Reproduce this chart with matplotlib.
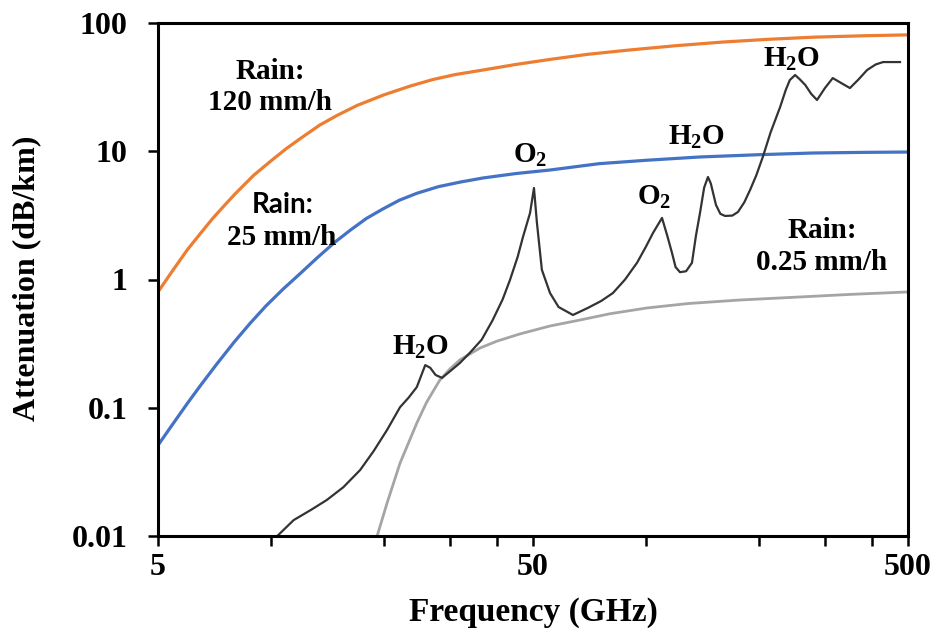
import matplotlib
matplotlib.use("Agg")
import matplotlib.pyplot as plt
from matplotlib.ticker import FixedLocator, NullLocator, NullFormatter

# ---------------- data ----------------
rain120_freq = [5, 5.5, 6, 6.5, 7, 7.5, 8, 8.5, 9, 10, 11, 12, 13.5, 15, 17, 20, 23.5, 27, 31, 36.8,
                45, 55.5, 70, 90, 120, 160, 210, 279, 380, 500]
rain120_att = [0.80, 1.2, 1.72, 2.3, 3.0, 3.75, 4.6, 5.5, 6.5, 8.4, 10.5, 12.6, 16.0, 19.0, 22.8, 27.5, 32.2, 36.2,
               39.6, 43, 47.5, 52, 57, 61.5, 66.5, 71, 74.5, 77.5, 79.5, 80.8]

rain25_freq = [5, 5.5, 6, 6.5, 7.18, 8, 8.8, 9.7, 10.77, 12, 13.3, 14.8, 16.3, 18, 19.9, 22, 24.5, 28, 32,
               36.8, 45, 55.5, 75, 100, 139, 200, 279, 380, 500]
rain25_att = [0.051, 0.076, 0.109, 0.150, 0.220, 0.328, 0.455, 0.622, 0.84, 1.12, 1.48, 1.95, 2.43, 3.0, 3.55,
              4.15, 4.7, 5.3, 5.75, 6.19, 6.7, 7.14, 8.0, 8.5, 9.02, 9.4, 9.69, 9.8, 9.86]

rain025_freq = [19.2, 20.4, 22.1, 24.5, 26, 28.2, 30, 31.9, 36.1, 40, 46.1, 55.5, 66.7, 80, 100.7, 130,
                178, 258, 350, 500]
rain025_att = [0.010, 0.018, 0.037, 0.076, 0.11, 0.164, 0.20, 0.236, 0.292, 0.33, 0.376, 0.434, 0.483, 0.54,
               0.600, 0.65, 0.692, 0.731, 0.765, 0.80]

gas_freq = [10.4, 11.5, 12.8, 14.1, 15.6, 17.3, 18.8, 20.4, 22.1, 23.3, 24.5, 25.2, 25.8, 26.6, 27.5,
            28.6, 30.2, 31.9, 34, 36.5, 39, 41.5, 43.4, 45.5, 47.0, 49.1, 50.3, 51.2, 52.8, 55.5, 58.5,
            63.9, 70, 76, 81.7, 88, 94.7, 100, 104.5, 110.4, 114, 117.4, 120, 123.3, 128, 132.7, 136,
            139.4, 143, 146.4, 149, 153.8, 158, 162.6, 170, 176, 183, 189.6, 197, 205, 215, 228, 236,
            242, 250, 257, 266, 276, 286, 300, 315, 332, 350, 368, 389, 410, 429, 476]
gas_att = [0.010, 0.0133, 0.0160, 0.0191, 0.024, 0.0327, 0.046, 0.067, 0.101, 0.12, 0.145, 0.18, 0.215,
           0.205, 0.18, 0.171, 0.195, 0.223, 0.27, 0.34, 0.48, 0.70, 0.99, 1.5, 2.14, 3.30, 5.17, 2.8,
           1.19, 0.785, 0.61, 0.529, 0.60, 0.68, 0.785, 1.0, 1.35, 1.8, 2.31, 3.02, 2.2, 1.61, 1.25, 1.14,
           1.16, 1.35, 2.2, 3.30, 5.2, 6.30, 5.6, 3.81, 3.25, 3.13, 3.15, 3.36, 4.0, 4.99, 6.5, 9.02, 14,
           22.1, 30, 35.9, 39.3, 36.5, 32.9, 28, 25.1, 31, 37.2, 34, 31.1, 36, 43.0, 47.5, 49.6, 49.6]

x_major = [5, 50, 500]
x_major_labels = ["5", "50", "500"]
x_minor = [10, 20, 30, 40, 100, 200, 300, 400]
y_major = [0.01, 0.1, 1, 10, 100]
y_major_labels = ["0.01", "0.1", "1", "10", "100"]

# ---------------- style ----------------
plt.rcParams['mathtext.fontset'] = 'custom'
plt.rcParams['mathtext.bf'] = 'Liberation Serif:bold'
plt.rcParams['mathtext.rm'] = 'Liberation Serif:bold'

SERIF = "Liberation Serif"
fig = plt.figure(figsize=(9.36, 6.35), dpi=100)
ax = fig.add_axes([158 / 936, 1 - 536 / 635, 750 / 936, 513 / 635])

ax.plot(rain120_freq, rain120_att, color="#ED7D31", lw=2.3, solid_capstyle="butt")
ax.plot(rain25_freq, rain25_att, color="#4472C4", lw=2.3, solid_capstyle="butt")
ax.plot(rain025_freq, rain025_att, color="#A5A5A5", lw=2.0)
ax.plot(gas_freq, gas_att, color="#333333", lw=1.6)

ax.set_xscale("log")
ax.set_yscale("log")
ax.set_xlim(5, 500)
ax.set_ylim(0.01, 100)

ax.xaxis.set_major_locator(FixedLocator(x_major))
ax.set_xticklabels(x_major_labels)
ax.xaxis.set_minor_locator(FixedLocator(x_minor))
ax.xaxis.set_minor_formatter(NullFormatter())
ax.yaxis.set_major_locator(FixedLocator(y_major))
ax.set_yticklabels(y_major_labels)
ax.yaxis.set_minor_locator(NullLocator())

ax.tick_params(axis="both", which="both", direction="out", width=1.8, color="black")
ax.tick_params(axis="both", which="major", length=7)
ax.tick_params(axis="x", which="minor", length=7)
ax.tick_params(axis="x", which="major", pad=5)
ax.tick_params(axis="y", which="major", pad=15)
for lab in ax.get_xticklabels() + ax.get_yticklabels():
    lab.set_fontfamily(SERIF)
    lab.set_fontweight("bold")
    lab.set_fontsize(23)

for sp in ax.spines.values():
    sp.set_linewidth(2.2)
    sp.set_color("black")

fig.text(533 / 936, 1 - 612 / 635, "Frequency (GHz)", ha="center", va="center",
         fontfamily=SERIF, fontweight="bold", fontsize=24)
fig.text(27 / 936, 1 - 278 / 635, "Attenuation (dB/km)", ha="center", va="center", rotation=90,
         fontfamily=SERIF, fontweight="bold", fontsize=23)

# ---------------- annotations ----------------
tk = dict(ha="center", va="center", fontfamily=SERIF, fontweight="bold", fontsize=21)
ax.text(9.94, 41.5, "Rain:", **tk)
ax.text(9.94, 23.8, "120 mm/h", **tk)
ax.text(10.77, 3.81, "Rain:", ha="center", va="center", fontfamily="Lato", fontweight="bold", fontsize=20)
ax.text(10.7, 2.11, "25 mm/h", **tk)
ax.text(295, 2.43, "Rain:", **tk)
ax.text(295, 1.35, "0.25 mm/h", **tk)

mk = dict(ha="center", va="center", fontsize=21)
ax.text(25.0, 0.298, r"$\mathbf{H_2O}$", **mk)
ax.text(49.1, 9.35, r"$\mathbf{O_2}$", **mk)
ax.text(105, 4.40, r"$\mathbf{O_2}$", **mk)
ax.text(136.6, 12.9, r"$\mathbf{H_2O}$", **mk)
ax.text(245, 52.4, r"$\mathbf{H_2O}$", **mk)

fig.savefig("out.png", dpi=100)
